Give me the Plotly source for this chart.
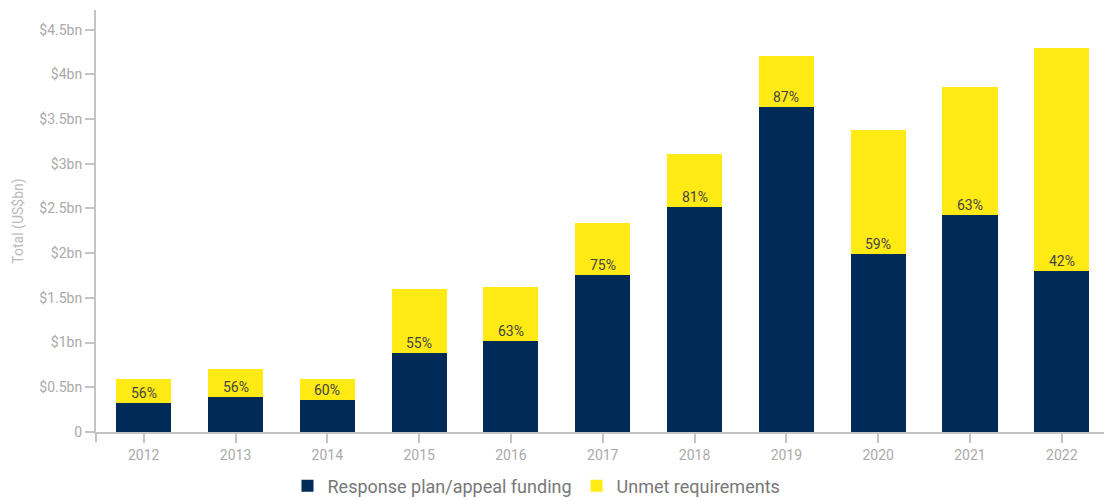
import plotly.graph_objects as go

# data (US$bn)
years = ["2012", "2013", "2014", "2015", "2016", "2017", "2018", "2019", "2020", "2021", "2022"]
funded = [0.33, 0.39, 0.36, 0.88, 1.02, 1.76, 2.52, 3.64, 1.99, 2.43, 1.80]
unmet = [0.26, 0.31, 0.23, 0.72, 0.60, 0.58, 0.59, 0.56, 1.39, 1.43, 2.49]
pct_labels = ["56%", "56%", "60%", "55%", "63%", "75%", "81%", "87%", "59%", "63%", "42%"]

tick_vals = [0, 0.5, 1, 1.5, 2, 2.5, 3, 3.5, 4, 4.5]
tick_text = ["0", "$0.5bn", "$1bn", "$1.5bn", "$2bn", "$2.5bn", "$3bn", "$3.5bn", "$4bn", "$4.5bn"]

navy = "#002a57"
yellow = "#ffea14"
axis_grey = "#c4c4c4"

fig = go.Figure()
fig.add_trace(go.Bar(x=years, y=funded, name="Response plan/appeal funding",
                     marker=dict(color=navy, line=dict(width=0))))
fig.add_trace(go.Bar(x=years, y=unmet, name="Unmet requirements",
                     marker=dict(color=yellow, line=dict(width=0))))

# percentage labels sit just above the funded segment
# (category axis: annotations placed by category index)
for i, (f, lab) in enumerate(zip(funded, pct_labels)):
    fig.add_annotation(x=i, y=f, text=lab, showarrow=False, yanchor="bottom",
                       yshift=0, font=dict(size=14, color="#444444"))

# y axis line runs a little below the baseline
fig.add_shape(type="line", xref="paper", yref="paper", x0=0, x1=0, y0=0, y1=-0.024,
              line=dict(color=axis_grey, width=2))

fig.update_layout(
    width=1104, height=500,
    barmode="stack", bargap=0.4,
    margin=dict(l=96, r=0, t=10, b=68, autoexpand=False),
    plot_bgcolor="white", paper_bgcolor="white",
    font=dict(family="Roboto", color="#aaaaaa"),
    showlegend=True,
    legend=dict(orientation="h", x=0.437, xanchor="center", y=-0.172, yanchor="bottom",
                font=dict(size=18, color="#777777"), traceorder="normal",
                itemsizing="constant"),
)
fig.update_xaxes(type="category", range=[-0.52, len(years) - 0.54], automargin=False,
                 showline=True, linecolor=axis_grey, linewidth=2,
                 ticks="outside", ticklen=9, tickcolor=axis_grey, tickwidth=2,
                 tickfont=dict(size=14, color="#aaaaaa"), showgrid=False)
fig.update_yaxes(range=[0, 4.72], automargin=False, showline=True, linecolor=axis_grey, linewidth=2,
                 ticks="outside", ticklen=9, tickcolor=axis_grey, tickwidth=2,
                 tickvals=tick_vals, ticktext=tick_text, showgrid=False, zeroline=False,
                 tickfont=dict(size=14, color="#aaaaaa"),
                 title=dict(text="Total (US$bn)", font=dict(size=14, color="#bbbbbb"), standoff=12))

# drop the default body margin so the figure sits at the page corner
fig.write_html("out.html", config={"displayModeBar": False},
               post_script="document.body.style.margin='0';")
